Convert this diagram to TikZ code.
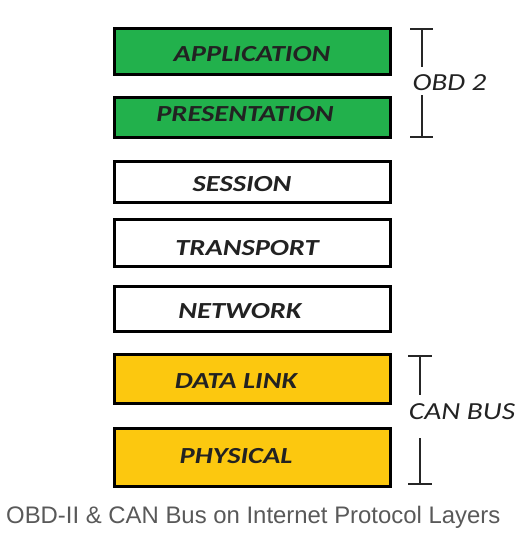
\documentclass[tikz,border=0pt]{standalone}
\usepackage{fontspec}
\setmainfont{Liberation Sans}
\newfontfamily\boxfont{Carlito}
\definecolor{obdgreen}{HTML}{22B14C}
\definecolor{canyellow}{HTML}{FCC80F}
\definecolor{captiongray}{HTML}{595959}
\definecolor{labeldark}{HTML}{222222}
\begin{document}
\begin{tikzpicture}[x=1pt,y=-1pt,
  layerbox/.style={draw=black, line width=3pt, minimum width=276pt, inner sep=0pt, outer sep=0pt},
  layertext/.style={inner sep=0pt, text=labeldark, font=\boxfont\bfseries\itshape\fontsize{23}{23}\selectfont},
  sidetext/.style={inner sep=0pt, text=labeldark, font=\boxfont\itshape\fontsize{24.5}{24.5}\selectfont},
  bracketline/.style={draw=black!85, line width=2pt}]
\useasboundingbox (0,0) rectangle (529,547);
% boxes
\node[layerbox, fill=obdgreen, minimum height=46pt] (app) at (252.5,51) {};
\node[layerbox, fill=obdgreen, minimum height=40pt] (pres) at (252.5,117) {};
\node[layerbox, fill=white, minimum height=41pt] (sess) at (252.5,181.5) {};
\node[layerbox, fill=white, minimum height=47pt] (trans) at (252.5,242.5) {};
\node[layerbox, fill=white, minimum height=45pt] (net) at (252.5,308.5) {};
\node[layerbox, fill=canyellow, minimum height=49pt] (dl) at (252.5,378.5) {};
\node[layerbox, fill=canyellow, minimum height=58pt] (phy) at (252.5,457) {};
% labels
\node[layertext] (appt) at (252,54.5) {\scalebox{1.24}[1]{APPLICATION}};
\node[layertext] (prest) at (245,114.5) {\scalebox{1.24}[1]{PRESENTATION}};
\node[layertext] (sesst) at (242,184.5) {\scalebox{1.24}[1]{SESSION}};
\node[layertext] (transt) at (247,248) {\scalebox{1.24}[1]{TRANSPORT}};
\node[layertext] (nett) at (240,311) {\scalebox{1.24}[1]{NETWORK}};
\node[layertext] (dlt) at (236,381) {\scalebox{1.24}[1]{DATA LINK}};
\node[layertext] (phyt) at (236,456.5) {\scalebox{1.24}[1]{PHYSICAL}};
% OBD 2 bracket
\coordinate (obdtl) at (410,29);
\coordinate (obdtr) at (433,29);
\coordinate (obdtm) at (422,29);
\coordinate (obdgt) at (422,67);
\coordinate (obdgb) at (422,95);
\coordinate (obdbm) at (422,137);
\coordinate (obdbl) at (410,137);
\coordinate (obdbr) at (433,137);
\draw[bracketline] (obdtl) -- (obdtr);
\draw[bracketline] (obdtm) -- (obdgt);
\draw[bracketline] (obdgb) -- (obdbm);
\draw[bracketline] (obdbl) -- (obdbr);
\node[sidetext] (obdt) at (449.5,83) {\scalebox{1.18}[1]{OBD 2}};
% CAN BUS bracket
\coordinate (cantl) at (408,356);
\coordinate (cantr) at (432,356);
\coordinate (cantm) at (420,356);
\coordinate (cangt) at (420,395);
\coordinate (cangb) at (420,438);
\coordinate (canbm) at (420,484);
\coordinate (canbl) at (408,484);
\coordinate (canbr) at (432,484);
\draw[bracketline] (cantl) -- (cantr);
\draw[bracketline] (cantm) -- (cangt);
\draw[bracketline] (cangb) -- (canbm);
\draw[bracketline] (canbl) -- (canbr);
\node[sidetext] (cant) at (462,412) {\scalebox{1.2}[1]{CAN BUS}};
% caption
\node[anchor=base west, inner sep=0pt, text=captiongray, font=\fontsize{23.9}{24}\selectfont] (cap) at (6,523) {OBD-II \& CAN Bus on Internet Protocol Layers};
\end{tikzpicture}
\end{document}
